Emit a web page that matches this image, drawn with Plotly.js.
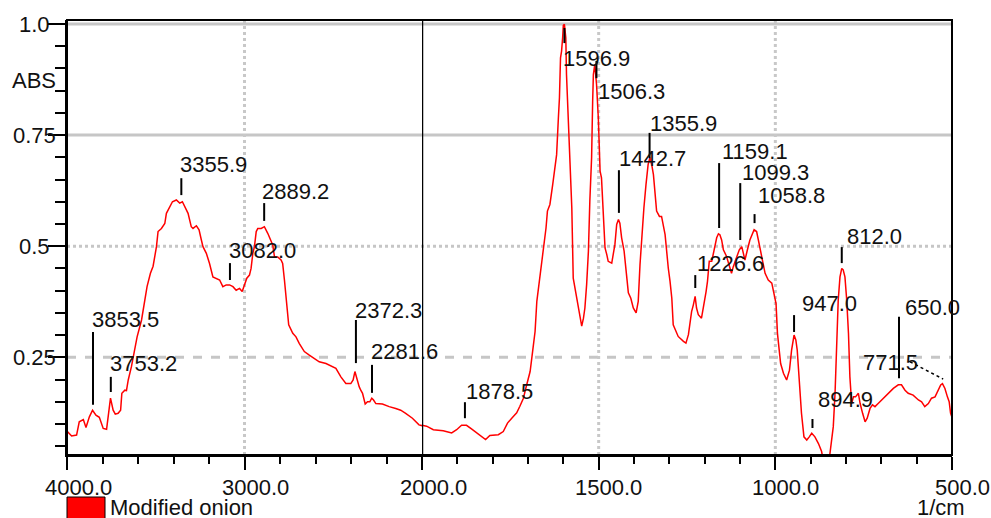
<!DOCTYPE html>
<html><head><meta charset="utf-8">
<script src="https://cdn.plot.ly/plotly-3.0.1.min.js"></script>
<style>html,body{margin:0;padding:0;background:#fff}</style>
</head><body><div id="chart" style="width:991px;height:518px"></div>
<script>
// ---- data (wavenumber in 1/cm, absorbance) ----
const wavenumber = [4000,3998,3974,3946,3931,3908,3893,3874,3856,3837,3818,3796,3777,3762,3755,3740,3728,3712,3698,3691,3674,3665,3655,3637,3624,3605,3580,3562,3549,3530,3515,3496,3487,3468,3449,3440,3421,3406,3384,3365,3350,3331,3318,3300,3290,3271,3256,3243,3234,3215,3197,3178,3159,3140,3122,3103,3084,3065,3047,3028,3013,3000,2987,2972,2963,2953,2944,2934,2925,2906,2888,2869,2859,2841,2831,2813,2794,2785,2775,2766,2751,2728,2710,2691,2663,2635,2607,2579,2541,2504,2485,2457,2429,2401,2388,2378,2367,2354,2345,2335,2320,2307,2294,2283,2273,2260,2223,2185,2148,2120,2092,2054,2017,2000,1987,1968,1940,1916,1902,1888,1874,1860,1845,1831,1820,1808,1784,1770,1758,1746,1732,1723,1713,1706,1699,1694,1687,1680,1675,1668,1661,1655,1649,1645,1638,1630,1624,1619,1614,1611,1608,1605,1602,1600,1597,1593,1591,1586,1581,1576,1572,1567,1562,1555,1548,1543,1539,1534,1529,1525,1520,1517,1515,1511,1506,1501,1496,1492,1487,1482,1477,1473,1463,1458,1454,1449,1444,1440,1435,1428,1421,1416,1409,1402,1394,1388,1383,1376,1372,1366,1360,1355,1350,1345,1336,1328,1322,1312,1308,1303,1298,1293,1289,1284,1275,1260,1253,1246,1242,1237,1232,1227,1223,1218,1209,1202,1196,1192,1187,1180,1171,1166,1161,1157,1152,1147,1138,1130,1124,1119,1110,1102,1095,1086,1079,1072,1060,1053,1048,1043,1036,1029,1020,1010,1004,998,994,989,985,977,968,960,954,947,942,938,935,930,926,919,911,904,897,888,878,869,865,858,850,846,836,831,826,822,817,812,808,803,798,793,789,784,779,773,765,760,753,746,740,732,725,718,709,694,680,666,652,643,633,624,610,595,586,577,567,558,548,539,532,527,520,513,508,504,500];
const absorbance = [0.083,0.083,0.073,0.075,0.105,0.110,0.092,0.116,0.131,0.120,0.115,0.090,0.088,0.131,0.158,0.131,0.122,0.124,0.131,0.169,0.176,0.175,0.199,0.229,0.259,0.296,0.334,0.379,0.409,0.439,0.455,0.499,0.533,0.540,0.551,0.574,0.589,0.600,0.604,0.597,0.600,0.585,0.574,0.544,0.540,0.546,0.537,0.514,0.499,0.484,0.461,0.431,0.428,0.424,0.409,0.413,0.413,0.409,0.401,0.405,0.398,0.416,0.428,0.435,0.450,0.484,0.499,0.533,0.540,0.540,0.544,0.529,0.518,0.503,0.476,0.476,0.469,0.461,0.424,0.379,0.323,0.304,0.296,0.281,0.263,0.255,0.248,0.240,0.236,0.229,0.225,0.206,0.191,0.191,0.199,0.218,0.199,0.184,0.176,0.169,0.145,0.150,0.150,0.158,0.154,0.146,0.145,0.139,0.135,0.131,0.124,0.113,0.098,0.097,0.095,0.087,0.085,0.080,0.087,0.097,0.097,0.089,0.080,0.070,0.065,0.074,0.076,0.083,0.102,0.113,0.125,0.140,0.158,0.181,0.203,0.218,0.263,0.308,0.376,0.421,0.466,0.496,0.541,0.579,0.594,0.639,0.676,0.706,0.789,0.834,0.924,0.939,0.969,0.997,0.999,0.969,0.886,0.789,0.669,0.586,0.428,0.406,0.376,0.353,0.320,0.338,0.361,0.414,0.489,0.601,0.699,0.826,0.886,0.909,0.864,0.789,0.669,0.654,0.564,0.496,0.481,0.466,0.462,0.489,0.504,0.549,0.560,0.552,0.519,0.489,0.436,0.395,0.383,0.361,0.350,0.376,0.459,0.549,0.586,0.639,0.684,0.699,0.684,0.661,0.579,0.567,0.567,0.526,0.489,0.451,0.421,0.383,0.323,0.312,0.297,0.286,0.282,0.301,0.325,0.353,0.368,0.387,0.361,0.346,0.338,0.368,0.398,0.421,0.466,0.466,0.496,0.519,0.528,0.526,0.514,0.492,0.477,0.458,0.439,0.454,0.477,0.492,0.499,0.469,0.492,0.514,0.537,0.533,0.514,0.492,0.461,0.439,0.424,0.417,0.394,0.371,0.304,0.266,0.236,0.214,0.199,0.221,0.266,0.300,0.289,0.266,0.229,0.176,0.124,0.071,0.064,0.071,0.079,0.071,0.056,0.038,0.020,0.005,0.015,0.030,0.094,0.169,0.289,0.379,0.431,0.450,0.447,0.431,0.379,0.304,0.206,0.146,0.161,0.161,0.169,0.146,0.124,0.105,0.113,0.135,0.143,0.139,0.146,0.158,0.169,0.180,0.188,0.188,0.176,0.169,0.165,0.154,0.150,0.139,0.146,0.158,0.161,0.176,0.188,0.191,0.180,0.161,0.150,0.124,0.115];

// peak labels (wavenumber text)
const peakLabels = ['3853.5','3753.2','3355.9','3082.0','2889.2','2372.3','2281.6','1878.5','1596.9','1506.3','1355.9','1442.7','1159.1','1099.3','1058.8','1226.6','812.0','947.0','650.0','771.5','894.9'];
const xTickLeft = ['4000.0','3000.0','2000.0'];
const xTickRight = ['1500.0','1000.0','500.0'];
const yTickLabels = ['1.0','0.75','0.5','0.25'];
const seriesName = 'Modified onion';
const xUnit = '1/cm';
const yName = 'ABS';

// ---- layout positions (label placement, in absorbance units / px shifts) ----
const labelTextY = [0.336,0.237,0.683,0.491,0.622,0.356,0.262,0.172,0.923,0.849,0.777,0.698,0.712,0.665,0.615,0.462,0.521,0.372,0.363,0.239,0.156];
const labelTickTop = [0.307,0.206,0.653,0.462,0.597,0.334,0.233,0.149,0.991,0.917,0.755,0.671,0.687,0.642,0.586,0.435,0.498,0.345,0.341,null,0.127];
const labelTickBot = [0.143,0.172,0.615,0.424,0.557,0.237,0.170,0.113,0.957,0.878,0.698,0.575,0.541,0.514,0.552,0.406,0.462,0.307,0.203,null,0.091];
const labelShift = [-3,-3,-3,-3,-4,-3,-3,-1,-3,0,-2,-2,1,0,1,0,3,6,4,5,4];

const W = 991, H = 518, L = 67, R = 39, T = 20, B = 63;
const pw = W - L - R, ph = H - T - B;
const dSplit = 355 / pw;
const yRange = [0.0302, 1.009];
const FONT = 'Liberation Sans, Arial, sans-serif';
const TXT = '#111';
function paperY(py){ return (H - B - py) / ph; }
function paperX(pxv){ return (pxv - L) / pw; }

const traces = [
  {x: wavenumber, y: absorbance, xaxis: 'x', yaxis: 'y', mode: 'lines', line: {color: '#ff0000', width: 1.5}, hoverinfo: 'skip', showlegend: false},
  {x: wavenumber, y: absorbance, xaxis: 'x2', yaxis: 'y', mode: 'lines', line: {color: '#ff0000', width: 1.5}, hoverinfo: 'skip', showlegend: false}
];

const axCommon = {
  ticks: 'outside', tickwidth: 2, tickcolor: '#000', showticklabels: false,
  showgrid: false, zeroline: false, showline: true, linecolor: '#000', linewidth: 2, fixedrange: true
};

const shapes = [];
const annotations = [];
const gridY = [1.0, 0.75, 0.5, 0.25];
const gridDash = ['solid', 'solid', 'dot', 'dash'];
gridY.forEach((v, i) => shapes.push({type: 'line', xref: 'paper', yref: 'y', x0: 0, x1: 1, y0: v, y1: v, layer: 'below', line: {color: '#c6c6c6', width: 3, dash: gridDash[i]}}));
[['x', 3000], ['x2', 1500], ['x2', 1000]].forEach(([xr, v]) => shapes.push({type: 'line', xref: xr, yref: 'paper', x0: v, x1: v, y0: 0, y1: 1, layer: 'below', line: {color: '#c8c8c8', width: 3, dash: 'dot'}}));
// divider at 2000 and frame
shapes.push({type: 'line', xref: 'x2', yref: 'paper', x0: 2000, x1: 2000, y0: 0, y1: 1, line: {color: '#000', width: 2.5}});
shapes.push({type: 'rect', xref: 'paper', yref: 'paper', x0: 0, x1: 1, y0: 0, y1: 1, line: {color: '#000', width: 2}});

peakLabels.forEach((t, i) => {
  const wn = parseFloat(t);
  const xr = wn >= 2000 ? 'x' : 'x2';
  annotations.push({xref: xr, yref: 'y', x: wn, y: labelTextY[i], text: t, showarrow: false, xanchor: 'left', yanchor: 'middle', xshift: labelShift[i], font: {family: FONT, size: 22, color: TXT}});
  if (labelTickTop[i] !== null) {
    const dashed = (t === '1058.8' || t === '894.9');
    shapes.push({type: 'line', xref: xr, yref: 'y', x0: wn, x1: wn, y0: labelTickBot[i], y1: labelTickTop[i], line: {color: '#000', width: 2, dash: dashed ? 'dash' : 'solid'}});
  }
});
// leader for 771.5 label (as drawn in the source)
shapes.push({type: 'line', xref: 'x2', yref: 'y', x0: 619, x1: 525, y0: 0.240, y1: 0.201, line: {color: '#000', width: 1.5, dash: 'dot'}});

// y tick labels (centred)
gridY.forEach((v, i) => annotations.push({xref: 'paper', yref: 'y', x: paperX(34), y: v, text: yTickLabels[i], showarrow: false, xanchor: 'center', yanchor: 'middle', font: {family: FONT, size: 22, color: TXT}}));
annotations.push({xref: 'paper', yref: 'y', x: paperX(34), y: 0.874, text: yName, showarrow: false, xanchor: 'center', yanchor: 'middle', font: {family: FONT, size: 22, color: TXT}});
// x tick labels
[4000, 3000, 2000].forEach((v, i) => annotations.push({xref: 'x', yref: 'paper', x: v, y: paperY(487), text: xTickLeft[i], showarrow: false, xanchor: 'center', yanchor: 'middle', xshift: 11, font: {family: FONT, size: 22, color: TXT}}));
[1500, 1000, 500].forEach((v, i) => annotations.push({xref: 'x2', yref: 'paper', x: v, y: paperY(487), text: xTickRight[i], showarrow: false, xanchor: 'center', yanchor: 'middle', xshift: 10, font: {family: FONT, size: 22, color: TXT}}));
annotations.push({xref: 'paper', yref: 'paper', x: paperX(941), y: paperY(507), text: xUnit, showarrow: false, xanchor: 'center', yanchor: 'middle', font: {family: FONT, size: 22, color: TXT}});
// legend
shapes.push({type: 'rect', xref: 'paper', yref: 'paper', x0: 0, x1: paperX(105), y0: paperY(497), y1: paperY(519), fillcolor: '#ff0000', line: {color: '#000', width: 1}});
annotations.push({xref: 'paper', yref: 'paper', x: paperX(108), y: paperY(507), text: seriesName, showarrow: false, xanchor: 'left', yanchor: 'middle', font: {family: FONT, size: 22, color: TXT}});

const layout = {
  width: W, height: H,
  margin: {l: L, r: R, t: T, b: B, pad: 0},
  paper_bgcolor: '#fff', plot_bgcolor: '#fff',
  showlegend: false,
  xaxis: Object.assign({}, axCommon, {domain: [0, dSplit], range: [4000, 2000], tick0: 0, dtick: 1000, ticklen: 13, anchor: 'y',
    minor: {tick0: 0, dtick: 200, ticks: 'outside', ticklen: 7, tickwidth: 2, tickcolor: '#000', showgrid: false}}),
  xaxis2: Object.assign({}, axCommon, {domain: [dSplit, 1], range: [2000, 500], tick0: 0, dtick: 500, ticklen: 13, anchor: 'y',
    minor: {tick0: 0, dtick: 100, ticks: 'outside', ticklen: 7, tickwidth: 2, tickcolor: '#000', showgrid: false}}),
  yaxis: Object.assign({}, axCommon, {range: yRange, tick0: 0, dtick: 0.25, ticklen: 17, anchor: 'x',
    minor: {tick0: 0, dtick: 0.05, ticks: 'outside', ticklen: 10, tickwidth: 2, tickcolor: '#000', showgrid: false}}),
  shapes: shapes,
  annotations: annotations
};

Plotly.newPlot('chart', traces, layout, {staticPlot: true, displayModeBar: false});
</script>
</body></html>
